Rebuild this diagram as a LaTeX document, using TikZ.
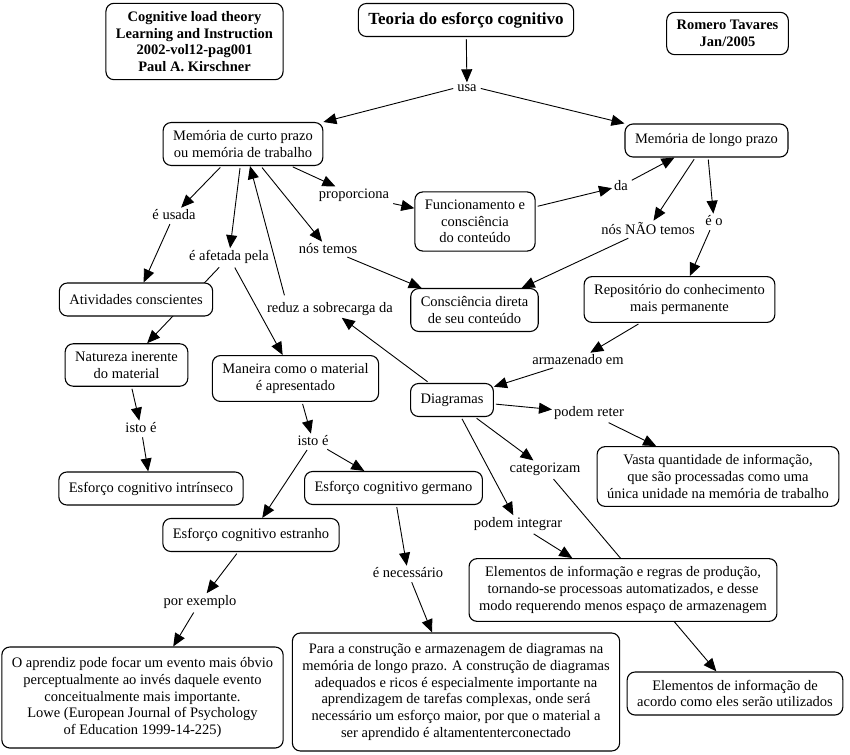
\documentclass[tikz,border=0pt]{standalone}
\usepackage{fontspec}
\setmainfont{Liberation Serif}
\usetikzlibrary{arrows.meta,backgrounds}

\begin{document}
\begin{tikzpicture}[x=1pt,y=-1pt,line cap=round,
  font=\fontsize{14.5}{16.7}\selectfont,
  concept/.style={draw,line width=1.1pt,rounded corners=8pt,fill=white,align=center,
    inner xsep=10pt,inner ysep=8pt,minimum height=33pt},
  phrase/.style={inner sep=2pt},
  conn/.style={line width=.9pt,shorten <=2pt,-{Triangle[length=13pt,width=11pt]}}]
  \useasboundingbox (0,0) rectangle (850,754);

  % concepts
  \node[concept,font=\fontsize{14.5}{16.7}\selectfont\bfseries] (fonte) at (194.5,41.5)
    {Cognitive load theory\\Learning and Instruction\\2002-vol12-pag001\\Paul A. Kirschner};
  \node[concept,font=\fontsize{17}{20}\selectfont\bfseries] (teoria) at (466,20)
    {Teoria do esforço cognitivo};
  \node[concept,font=\fontsize{14.5}{16.7}\selectfont\bfseries] (autor) at (727.5,33.5)
    {Romero Tavares\\Jan/2005};
  \node[concept] (mcp) at (243,144) {Memória de curto prazo\\ou memória de trabalho};
  \node[concept] (mlp) at (706.5,140.5) {Memória de longo prazo};
  \node[concept] (func) at (475,221.5) {Funcionamento e\\consciência\\do conteúdo};
  \node[concept] (consc) at (474.5,310) {Consciência direta\\de seu conteúdo};
  \node[concept] (repo) at (679.5,299.5) {Repositório do conhecimento\\mais permanente};
  \node[concept] (ativ) at (136,299.5) {Atividades conscientes};
  \node[concept] (natur) at (126.5,365) {Natureza inerente\\do material};
  \node[concept] (maneira) at (295.5,378.5) {Maneira como o material\\é apresentado};
  \node[concept] (diag) at (452,400) {Diagramas};
  \node[concept] (vasta) at (718,476.5)
    {Vasta quantidade de informação,\\que são processadas como uma\\única unidade na memória de trabalho};
  \node[concept] (intrin) at (151,488.5) {Esforço cognitivo intrínseco};
  \node[concept] (german) at (393.5,488) {Esforço cognitivo germano};
  \node[concept] (estran) at (251,535) {Esforço cognitivo estranho};
  \node[concept,minimum height=101pt] (aprendiz) at (142.5,697.5)
    {O aprendiz pode focar um evento mais óbvio\\perceptualmente ao invés daquele evento\\conceitualmente mais importante.\\Lowe (European Journal of Psychology\\of Education 1999-14-225)};
  \node[concept,minimum height=118pt] (constr) at (456,692)
    {Para a construção e armazenagem de diagramas na\\memória de longo prazo. A construção de diagramas\\adequados e ricos é especialmente importante na\\aprendizagem de tarefas complexas, onde será\\necessário um esforço maior, por que o material a\\ser aprendido é altamententerconectado};
  \node[concept] (regras) at (623,590)
    {Elementos de informação e regras de produção,\\tornando-se processoas automatizados, e desse\\modo requerendo menos espaço de armazenagem};
  \node[concept] (acordo) at (735,693.5) {Elementos de informação de\\acordo como eles serão utilizados};

  % linking phrases
  \node[phrase] (usa) at (467,88) {usa};
  \node[phrase] (usada) at (174,215) {é usada};
  \node[phrase] (afetada) at (229,257) {é afetada pela};
  \node[phrase] (temos) at (328,249) {nós temos};
  \node[phrase] (propor) at (354,195) {proporciona};
  \node[phrase] (reduz) at (330,309) {reduz a sobrecarga da};
  \node[phrase] (da) at (621,186) {da};
  \node[phrase] (naotemos) at (648,229) {nós NÃO temos};
  \node[phrase] (eo) at (714,221) {é o};
  \node[phrase] (armaz) at (578,360) {armazenado em};
  \node[phrase] (reter) at (589,413) {podem reter};
  \node[phrase] (categ) at (545,469) {categorizam};
  \node[phrase] (integ) at (518,524) {podem integrar};
  \node[phrase] (istoA) at (141,428) {isto é};
  \node[phrase] (istoB) at (313,441) {isto é};
  \node[phrase] (exemplo) at (200,602) {por exemplo};
  \node[phrase] (necess) at (408,573) {é necessário};

  % connectors (behind the boxes)
  \begin{scope}[on background layer]
    \draw[conn] (teoria) -- (usa);
    \draw[conn] (usa.west) -- (mcp.north east);
    \draw[conn] (usa.east) -- (mlp.north west);
    \draw[conn] (mcp) -- (usada);
    \draw[conn] (usada) -- (ativ);
    \draw[conn] (mcp) -- (afetada);
    \draw[conn] (afetada) -- (natur);
    \draw[conn] (afetada) -- (maneira);
    \draw[conn] (mcp) -- (temos);
    \draw[conn] (temos) -- (consc);
    \draw[conn] (mcp) -- (propor);
    \draw[conn] (propor) -- (func);
    \draw[conn] (func) -- (da);
    \draw[conn] (da) -- (mlp);
    \draw[conn] (mlp) -- (naotemos);
    \draw[conn] (naotemos) -- (consc);
    \draw[conn] (mlp) -- (eo);
    \draw[conn] (eo) -- (repo);
    \draw[conn] (repo) -- (armaz);
    \draw[conn] (armaz) -- (diag);
    \draw[conn] (diag) -- (reduz);
    \draw[conn] ([xshift=20pt,yshift=3pt]reduz.north west) -- ([xshift=7pt]mcp.south);
    \draw[conn] (diag) -- (reter);
    \draw[conn] (reter) -- (vasta);
    \draw[conn] (diag) -- (categ);
    \draw[conn] (categ) -- (acordo);
    \draw[conn] (diag) -- (integ);
    \draw[conn] (integ) -- (regras);
    \draw[conn] (natur) -- (istoA);
    \draw[conn] (istoA) -- (intrin);
    \draw[conn] (maneira) -- (istoB);
    \draw[conn] (istoB) -- (estran);
    \draw[conn] (istoB) -- (german);
    \draw[conn] (german) -- (necess);
    \draw[conn] (necess) -- (constr);
    \draw[conn] (estran) -- (exemplo);
    \draw[conn] (exemplo) -- (aprendiz);
  \end{scope}
\end{tikzpicture}
\end{document}
